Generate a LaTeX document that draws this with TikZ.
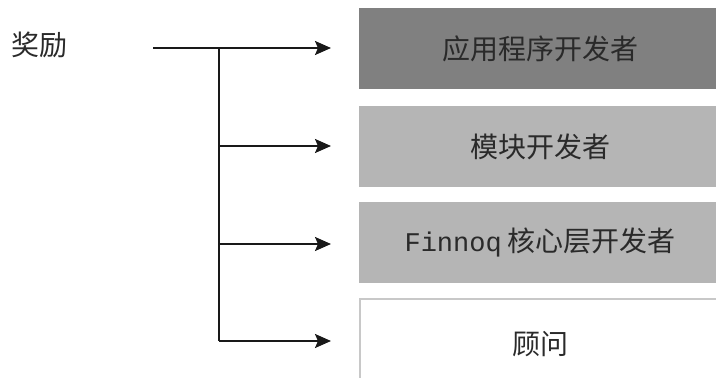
\documentclass[tikz,border=0pt]{standalone}
\usepackage{fontspec}
\newfontfamily\cjk{Noto Sans CJK SC}
\newfontfamily\monof{Liberation Mono}
\usetikzlibrary{arrows.meta}
\definecolor{darkbox}{HTML}{808080}
\definecolor{lightbox}{HTML}{B5B5B5}
\definecolor{edgegray}{HTML}{C8C8C8}
\definecolor{txt}{HTML}{2A2A2A}
\begin{document}
\begin{tikzpicture}[x=1pt,y=-1pt,
  box/.style={minimum width=362pt, minimum height=81pt, inner sep=0pt, anchor=north west,
    text=txt, font=\cjk\fontsize{28}{32}\selectfont},
  conn/.style={line width=2pt, draw=black!90, -{Stealth[length=16pt,width=14pt,inset=3pt]}},
  trunk/.style={line width=2pt, draw=black!90}]
\useasboundingbox (0,0) rectangle (716,378);
\fill[white] (0,0) rectangle (716,378);

\node[text=txt, font=\cjk\fontsize{28}{32}\selectfont] (lbl) at (40,45) {奖励};

\node[box, fill=darkbox] (b1) at (359,8) {应用程序开发者};
\node[box, fill=lightbox] (b2) at (359,106) {\raisebox{-2pt}{模块开发者}};
\node[box, fill=lightbox] (b3) at (359,202) {\raisebox{2pt}{{\monof\fontsize{27}{30}\selectfont Finnoq}\hspace{6pt}核心层开发者}};
\node[box, fill=white, draw=edgegray, line width=1.5pt, minimum height=90pt] (b4) at (359,298) {\raisebox{-4pt}{顾问}};

\coordinate (s) at (153,48);
\coordinate (j1) at (219,48);
\coordinate (j2) at (219,146);
\coordinate (j3) at (219,244);
\coordinate (j4) at (219,341);
\coordinate (t1) at (331,48);
\coordinate (t2) at (331,146);
\coordinate (t3) at (331,244);
\coordinate (t4) at (331,341);

\draw[trunk] (s) -- (j1);
\draw[trunk] (j1) -- (j4);
\draw[conn] (j1) -- (t1);
\draw[conn] (j2) -- (t2);
\draw[conn] (j3) -- (t3);
\draw[conn] (j4) -- (t4);
\end{tikzpicture}
\end{document}
